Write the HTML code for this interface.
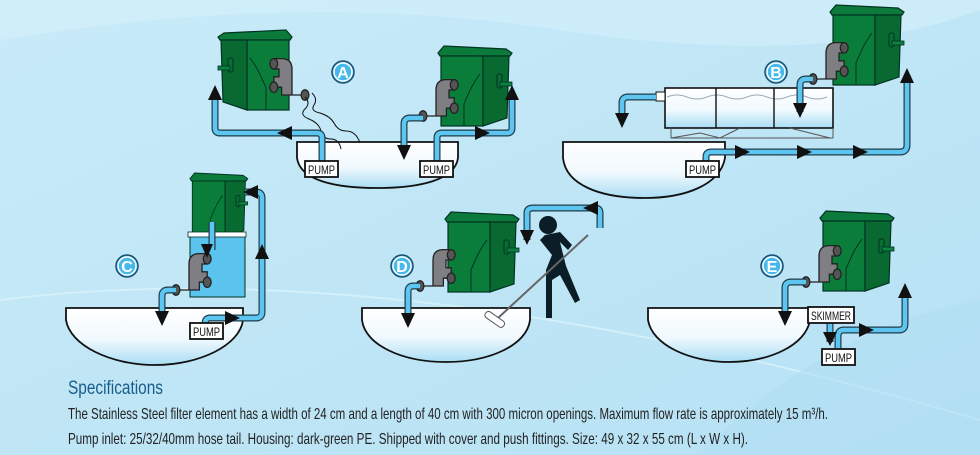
<!DOCTYPE html>
<html><head><meta charset="utf-8"><style>
html,body{margin:0;padding:0;width:980px;height:455px;overflow:hidden;background:#c3e7f6}
svg{display:block}
.lbl{font-family:"Liberation Sans Narrow","Liberation Sans",sans-serif;font-size:12px;fill:#111}
</style></head><body>
<svg width="980" height="455" viewBox="0 0 980 455" xmlns="http://www.w3.org/2000/svg">
<defs>
<linearGradient id="bg" x1="0" y1="0" x2="1" y2="1"><stop offset="0" stop-color="#c9ebf8"/><stop offset="1" stop-color="#b6e1f4"/></linearGradient>
<linearGradient id="pond" x1="0" y1="0" x2="0" y2="1"><stop offset="0" stop-color="#ffffff"/><stop offset="0.55" stop-color="#f0f9fe"/><stop offset="1" stop-color="#a9ddf4"/></linearGradient>
<g id="box">
 <path d="M0,7 L6,0 L68,3 L74,7 L72,10 L2,10 Z" fill="#0b7a3a" stroke="#032" stroke-width="1.2"/>
 <rect x="3" y="10" width="42" height="70" fill="#0b7d3b" stroke="#032" stroke-width="1.2"/>
 <path d="M45,10 L71,10 L69,72 L45,80 Z" fill="#096a31" stroke="#032" stroke-width="1.2"/>
 <path d="M26,80 L26,58 Q34,38 42,28" fill="none" stroke="#032"/>
 <rect x="59" y="28" width="5" height="14" rx="2" fill="#0a6d33" stroke="#032"/>
 <rect x="62" y="36" width="12" height="4" fill="#0e8040" stroke="#032" stroke-width="0.8"/>
</g>
<g id="fit">
 <path d="M0,0 h10 v-20 q0,-8 8,-8 h6 v8 h-4 v6 h4 v8 h-6 v6 z" fill="#7f7f83" stroke="#222"/>
 <ellipse cx="24" cy="-24" rx="3" ry="4" fill="#555" stroke="#222"/>
 <ellipse cx="24" cy="-6" rx="3" ry="4" fill="#555" stroke="#222"/>
 <ellipse cx="0" cy="0" rx="3" ry="4" fill="#555" stroke="#222"/>
</g>
</defs>
<rect width="980" height="455" fill="url(#bg)"/>
<path d="M0,40 Q300,-10 560,30 T980,10 V0 H0Z" fill="#d3f0fb" opacity="0.6"/>
<path d="M0,300 Q400,250 980,420" fill="none" stroke="#d8f2fb" stroke-width="2" opacity="0.8"/>
<path d="M700,455 Q820,330 980,300 V455Z" fill="#b0def3" opacity="0.6"/>

<g fill="url(#pond)" stroke="#111" stroke-width="1.8">
<path d="M297,142 H458 V158 C455,180 420,188 377,188 C334,188 300,180 297,158 Z"/>
<path d="M563,142 H725 V158 C720,185 685,198 645,198 C600,198 566,185 563,158 Z"/>
<path d="M66,308 H243 V320 C240,345 200,365 155,365 C110,365 70,345 66,320 Z"/>
<path d="M362,308 H530 V320 C527,345 490,362 446,362 C402,362 365,345 362,320 Z"/>
<path d="M648,308 H810 V320 C806,345 770,362 729,362 C690,362 652,345 648,320 Z"/>
</g>

<use href="#box" transform="translate(292,30) scale(-1,1)"/>
<use href="#box" transform="translate(438,46)"/>
<use href="#box" transform="translate(830,5)"/>
<use href="#box" transform="translate(190,173) scale(0.78,0.8)"/>
<rect x="190" y="233" width="55" height="64" fill="#5ac3ee" stroke="#032"/>
<rect x="188" y="232" width="58" height="5" fill="#fff" stroke="#032" stroke-width="0.8"/>
<use href="#box" transform="translate(445,212)"/>
<use href="#box" transform="translate(820,211)"/>
<use href="#fit" transform="translate(305,95) scale(-1.3,1.3)"/>
<use href="#fit" transform="translate(423,116) scale(1.3)"/>
<use href="#fit" transform="translate(813,79) scale(1.3)"/>
<use href="#fit" transform="translate(176,290) scale(1.3)"/>
<use href="#fit" transform="translate(420,286) scale(1.3)"/>
<use href="#fit" transform="translate(806,282) scale(1.3)"/>

<rect x="665" y="88" width="168" height="40" fill="url(#pond)" stroke="#111" stroke-width="1.6"/>
<path d="M667,97 q10,-4 20,0 t20,0 t20,0 t20,0 t20,0 t20,0 t20,0 t20,0" fill="none" stroke="#9ab" />
<line x1="716" y1="88" x2="716" y2="128" stroke="#111" stroke-width="1.4"/><line x1="774" y1="88" x2="774" y2="128" stroke="#111" stroke-width="1.4"/>
<path d="M671,128 V138 H833 V128 M671,138 L700,133 L720,138 L740,128 M790,128 L830,138" fill="none" stroke="#555"/>
<rect x="656" y="92" width="9" height="9" fill="#fff" stroke="#111"/>

<path d="M305,97 q6,6 0,12 q-6,6 4,10 q10,4 12,12 q2,8 10,8 q8,0 10,10" fill="none" stroke="#111"/>
<path d="M312,93 q6,6 2,12 q-4,6 6,8 q10,3 14,10 q4,8 12,8 q10,0 14,12" fill="none" stroke="#111"/>

<g fill="none" stroke-linejoin="round" stroke-linecap="butt">
<g stroke="#1f3b4b" stroke-width="7">
<path d="M322,162 V138 Q322,133 317,133 H220 Q215,133 215,128 V95"/>
<path d="M437,162 V138 Q437,133 442,133 H507 Q512,133 512,128 V95"/>
<path d="M423,118 H410 Q404,118 404,124 V150"/>
<path d="M706,162 V157 Q706,152 711,152 H900 Q907,152 907,145 V75"/>
<path d="M656,97 H628 Q622,97 622,103 V120"/>
<path d="M813,79 H806 Q800,79 800,85 V112"/>
<path d="M205,324 V324 Q205,318 210,318 H256 Q262,318 262,312 V198 Q262,192 256,192 H245"/>
<path d="M176,290 H168 Q162,290 162,296 V318"/>
<path d="M420,286 H413 Q408,286 408,292 V320"/>
<path d="M600,228 V213 Q600,208 595,208 H533 Q527,208 527,213 V240"/>
<path d="M806,282 H791 Q785,282 785,288 V318"/>
<path d="M830,323 V342"/>
<path d="M838,348 V336 Q838,330 844,330 H899 Q905,330 905,324 V290"/>
<path d="M212,222 V250"/>
</g>
<g stroke="#5cc6f0" stroke-width="4.6">
<path d="M322,162 V138 Q322,133 317,133 H220 Q215,133 215,128 V95"/>
<path d="M437,162 V138 Q437,133 442,133 H507 Q512,133 512,128 V95"/>
<path d="M423,118 H410 Q404,118 404,124 V150"/>
<path d="M706,162 V157 Q706,152 711,152 H900 Q907,152 907,145 V75"/>
<path d="M656,97 H628 Q622,97 622,103 V120"/>
<path d="M813,79 H806 Q800,79 800,85 V112"/>
<path d="M205,324 V324 Q205,318 210,318 H256 Q262,318 262,312 V198 Q262,192 256,192 H245"/>
<path d="M176,290 H168 Q162,290 162,296 V318"/>
<path d="M420,286 H413 Q408,286 408,292 V320"/>
<path d="M600,228 V213 Q600,208 595,208 H533 Q527,208 527,213 V240"/>
<path d="M806,282 H791 Q785,282 785,288 V318"/>
<path d="M830,323 V342"/>
<path d="M838,348 V336 Q838,330 844,330 H899 Q905,330 905,324 V290"/>
<path d="M212,222 V250"/>
</g>
</g>
<g fill="#111">
<path d="M215,85 l-7,15 h14z"/><path d="M512,85 l-7,15 h14z"/>
<path d="M277,133 l15,-7 v14z"/><path d="M490,133 l-15,-7 v14z"/>
<path d="M404,160 l-7,-15 h14z"/>
<path d="M907,68 l-7,15 h14z"/><path d="M622,128 l-7,-15 h14z"/><path d="M800,118 l-7,-15 h14z"/>
<path d="M750,152 l-15,-7 v14z"/><path d="M812,152 l-15,-7 v14z"/><path d="M868,152 l-15,-7 v14z"/>
<path d="M243,192 l15,-7 v14z"/><path d="M262,244 l-7,15 h14z"/><path d="M240,318 l-15,-7 v14z"/><path d="M162,326 l-7,-15 h14z"/><path d="M207,258 l-6,-14 h12z"/>
<path d="M408,328 l-7,-15 h14z"/><path d="M527,245 l-7,-15 h14z"/><path d="M583,208 l15,-7 v14z"/>
<path d="M785,326 l-7,-15 h14z"/><path d="M830,346 l-7,-14 h14z"/><path d="M874,330 l-15,-7 v14z"/><path d="M905,283 l-7,15 h14z"/>
</g>

<g fill="#0b1d26">
<circle cx="548" cy="225" r="9"/>
<path d="M545,235 L560,232 L572,245 L568,250 L560,242 L566,266 L580,300 L575,303 L560,275 L552,280 L552,318 L546,318 L546,270 L552,255 L540,240 Z"/>
</g>
<line x1="588" y1="235" x2="498" y2="318" stroke="#666" stroke-width="2"/>
<rect x="484" y="316" width="22" height="7" rx="3" transform="rotate(35 495 319)" fill="#fff" stroke="#555"/>

<g fill="#fff" stroke="#111" stroke-width="1.8">
<rect x="305" y="161" width="33" height="16"/><rect x="420" y="161" width="33" height="16"/>
<rect x="686" y="161" width="33" height="16"/><rect x="190" y="323" width="33" height="16"/>
<rect x="808" y="307" width="46" height="16"/><rect x="822" y="349" width="33" height="16"/>
</g>
<g class="lbl" text-anchor="middle">
<text x="321.5" y="174" textLength="27" lengthAdjust="spacingAndGlyphs">PUMP</text><text x="436.5" y="174" textLength="27" lengthAdjust="spacingAndGlyphs">PUMP</text>
<text x="702.5" y="174" textLength="27" lengthAdjust="spacingAndGlyphs">PUMP</text><text x="206.5" y="336" textLength="27" lengthAdjust="spacingAndGlyphs">PUMP</text>
<text x="831" y="320" textLength="40" lengthAdjust="spacingAndGlyphs">SKIMMER</text><text x="838.5" y="362" textLength="27" lengthAdjust="spacingAndGlyphs">PUMP</text>
</g>

<g fill="#45b8ec" stroke="#1b4f6e" stroke-width="1.5">
<circle cx="343" cy="72" r="11"/><circle cx="776" cy="72" r="11"/>
<circle cx="127" cy="266" r="11"/><circle cx="402" cy="266" r="11"/><circle cx="772" cy="266" r="11"/>
</g>
<g fill="none" stroke="#fff" stroke-width="1.5">
<circle cx="343" cy="72" r="9"/><circle cx="776" cy="72" r="9"/>
<circle cx="127" cy="266" r="9"/><circle cx="402" cy="266" r="9"/><circle cx="772" cy="266" r="9"/>
</g>
<g font-family="Liberation Sans Narrow,Liberation Sans,sans-serif" font-weight="bold" font-size="16" fill="#fff" text-anchor="middle">
<text x="343" y="78">A</text><text x="776" y="78">B</text><text x="127" y="272">C</text><text x="402" y="272">D</text><text x="772" y="272">E</text>
</g>

<text x="68" y="394" font-family="Liberation Sans Narrow,Liberation Sans,sans-serif" font-size="19" fill="#185d8c" textLength="95" lengthAdjust="spacingAndGlyphs">Specifications</text>
<text x="68" y="419" font-family="Liberation Sans Narrow,Liberation Sans,sans-serif" font-size="16" fill="#222" textLength="760" lengthAdjust="spacingAndGlyphs">The Stainless Steel filter element has a width of 24 cm and a length of 40 cm with 300 micron openings. Maximum flow rate is approximately 15 m³/h.</text>
<text x="68" y="444" font-family="Liberation Sans Narrow,Liberation Sans,sans-serif" font-size="16" fill="#222" textLength="680" lengthAdjust="spacingAndGlyphs">Pump inlet: 25/32/40mm hose tail. Housing: dark-green PE. Shipped with cover and push fittings. Size: 49 x 32 x 55 cm (L x W x H).</text>
</svg>
</body></html>
